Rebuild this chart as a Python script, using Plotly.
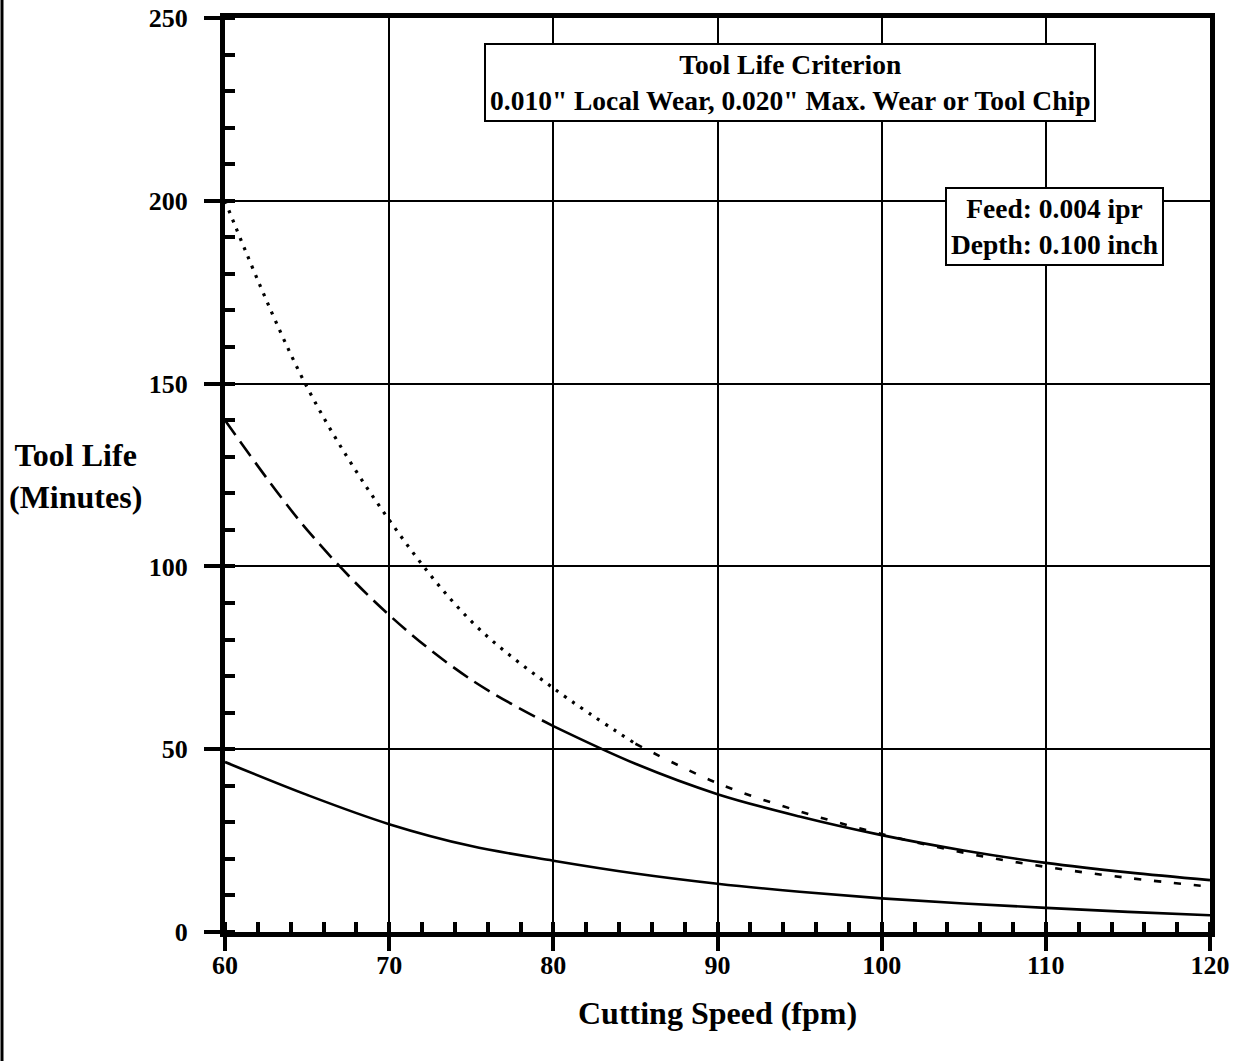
import plotly.graph_objects as go

# ---- data ----
speed = [60, 65, 70, 75, 80, 85, 90, 95, 100, 105, 110, 115, 120]
life_lower = [46.5, 37.5, 29.5, 23.5, 19.5, 16.0, 13.2, 11.0, 9.2, 7.8, 6.6, 5.5, 4.6]
life_upper = [140, 110, 86.7, 69, 56.3, 46, 37.7, 31.6, 26.5, 22.3, 18.9, 16.3, 14.2]
life_dotted = [200, 149, 112.7, 85, 66.7, 51.5, 40.7, 33, 26.8, 21.7, 17.8, 14.8, 12.4]

upper_split = 4    # index where long-dash turns solid (80 fpm)
dotted_split = 5   # index where dots turn into short dashes (85 fpm)

x_ticks = [60, 70, 80, 90, 100, 110, 120]
y_ticks = [0, 50, 100, 150, 200, 250]

FONT = "Liberation Serif"
LW = 2.6

fig = go.Figure()

fig.add_trace(go.Scatter(x=speed, y=life_lower, mode="lines",
                         line=dict(color="black", width=LW, shape="spline"),
                         showlegend=False))
fig.add_trace(go.Scatter(x=speed[:upper_split + 1], y=life_upper[:upper_split + 1], mode="lines",
                         line=dict(color="black", width=LW, dash="18px,8px", shape="spline"),
                         showlegend=False))
fig.add_trace(go.Scatter(x=speed[upper_split:], y=life_upper[upper_split:], mode="lines",
                         line=dict(color="black", width=LW, shape="spline"),
                         showlegend=False))
fig.add_trace(go.Scatter(x=speed[:dotted_split + 1], y=life_dotted[:dotted_split + 1], mode="lines",
                         line=dict(color="black", width=3.2, dash="3px,7px", shape="spline"),
                         showlegend=False))
fig.add_trace(go.Scatter(x=speed[dotted_split:], y=life_dotted[dotted_split:], mode="lines",
                         line=dict(color="black", width=LW, dash="7px,13px", shape="spline"),
                         showlegend=False))

tickfont = dict(family=FONT, size=26, color="black", weight="bold")

fig.update_xaxes(
    range=[60, 120], tickvals=x_ticks, ticktext=[str(v) for v in x_ticks],
    showgrid=True, gridcolor="black", gridwidth=2, zeroline=False,
    showline=True, linecolor="black", linewidth=5, mirror=True,
    ticks="outside", ticklen=14, tickwidth=4, tickcolor="black",
    tickfont=tickfont, ticklabelstandoff=-8, automargin=False,
    minor=dict(dtick=2, ticks="inside", ticklen=10, tickwidth=4, tickcolor="black", showgrid=False),
)
fig.update_yaxes(
    range=[0, 250], tickvals=y_ticks, ticktext=[str(v) for v in y_ticks],
    showgrid=True, gridcolor="black", gridwidth=2, zeroline=False,
    showline=True, linecolor="black", linewidth=5, mirror=True,
    ticks="outside", ticklen=16, tickwidth=4, tickcolor="black",
    tickfont=tickfont, ticklabelstandoff=11, automargin=False,
    minor=dict(dtick=10, ticks="inside", ticklen=10, tickwidth=4, tickcolor="black", showgrid=False),
)

fig.add_annotation(xref="paper", yref="paper", x=0.5, y=-0.0886,
                   xanchor="center", yanchor="middle",
                   text="<b>Cutting Speed (fpm)</b>", showarrow=False,
                   font=dict(family=FONT, size=32, color="black"))
fig.add_annotation(xref="paper", yref="paper", x=-0.1513, y=0.499,
                   xanchor="center", yanchor="middle",
                   text="<b>Tool Life<br>(Minutes)</b>", showarrow=False, align="center",
                   font=dict(family=FONT, size=32, color="black"))

fig.add_annotation(x=94.4, y=232.4, xref="x", yref="y",
                   text="<b>Tool Life Criterion<br>0.010\" Local Wear, 0.020\" Max. Wear or Tool Chip</b>",
                   showarrow=False, align="center", bgcolor="white",
                   bordercolor="black", borderwidth=2, borderpad=4,
                   font=dict(family=FONT, size=27.5, color="black"))
fig.add_annotation(x=110.5, y=193.1, xref="x", yref="y",
                   text="<b>Feed: 0.004 ipr<br>Depth: 0.100 inch</b>",
                   showarrow=False, align="center", bgcolor="white",
                   bordercolor="black", borderwidth=2, borderpad=4,
                   font=dict(family=FONT, size=27.5, color="black"))

# left border line of the scanned page
fig.add_shape(type="line", xref="paper", yref="paper",
              x0=-0.2264, x1=-0.2264, y0=-0.2, y1=1.1,
              line=dict(color="black", width=3))

fig.update_layout(
    width=1235, height=1061,
    margin=dict(l=225, r=25, t=18, b=129, autoexpand=False),
    plot_bgcolor="white", paper_bgcolor="white",
    showlegend=False,
)

fig.write_html("out.html", config={"displayModeBar": False},
               post_script="document.body.style.margin='0px';")
